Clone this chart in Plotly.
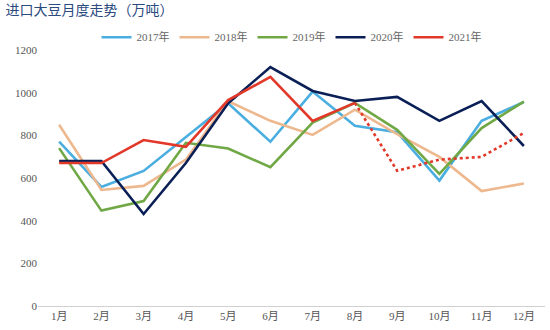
import plotly.graph_objects as go

months = ["1月", "2月", "3月", "4月", "5月", "6月", "7月", "8月", "9月", "10月", "11月", "12月"]
y2017 = [770, 558, 633, 790, 950, 770, 1005, 845, 815, 588, 868, 956]
y2018 = [850, 544, 563, 686, 960, 868, 802, 920, 806, 699, 539, 574]
y2019 = [740, 447, 492, 765, 738, 651, 860, 952, 826, 619, 834, 958]
y2020 = [680, 680, 431, 670, 950, 1120, 1008, 961, 980, 868, 961, 750]
y2021 = [670, 670, 778, 746, 965, 1074, 868, 952]
y2021_fc_months = ["8月", "9月", "10月", "11月", "12月"]
y2021_fc = [952, 634, 686, 699, 811]

names = ["2017年", "2018年", "2019年", "2020年", "2021年"]
colors = ["#4BAEE0", "#EDB88E", "#70A845", "#0B1F57", "#E2382A"]
series = [y2017, y2018, y2019, y2020, y2021]

fig = go.Figure()
for name, col, ys in zip(names, colors, series):
    fig.add_trace(go.Scatter(x=months[:len(ys)], y=ys, mode="lines", name=name,
                             line=dict(color=col, width=2.6)))
fig.add_trace(go.Scatter(x=y2021_fc_months, y=y2021_fc, mode="lines", showlegend=False,
                         line=dict(color=colors[4], width=2.6, dash="dot")))

font_serif = "Liberation Serif, Times New Roman, Noto Sans CJK SC, serif"
fig.update_layout(
    width=550, height=330,
    margin=dict(l=38, r=5, t=50, b=24),
    paper_bgcolor="white", plot_bgcolor="white",
    title=dict(text="进口大豆月度走势（万吨）", x=0.01, xanchor="left", y=0.985, yanchor="top",
               font=dict(family="Noto Sans CJK SC", size=14, color="#2B4A80")),
    legend=dict(orientation="h", x=0.5, xanchor="center", y=1.05, yanchor="middle",
                font=dict(family=font_serif, size=11, color="#666666"),
                itemwidth=30, tracegroupgap=0, bgcolor="rgba(0,0,0,0)"),
    xaxis=dict(type="category", range=[-0.5, 11.5], showgrid=False, showline=True,
               linecolor="#D0D0D0", linewidth=1, ticks="",
               tickfont=dict(family=font_serif, size=11, color="#555555")),
    yaxis=dict(range=[0, 1200], dtick=200, showgrid=False, showline=False, zeroline=False,
               ticks="", tickfont=dict(family=font_serif, size=11, color="#555555")),
)
fig.write_html("out.html")
